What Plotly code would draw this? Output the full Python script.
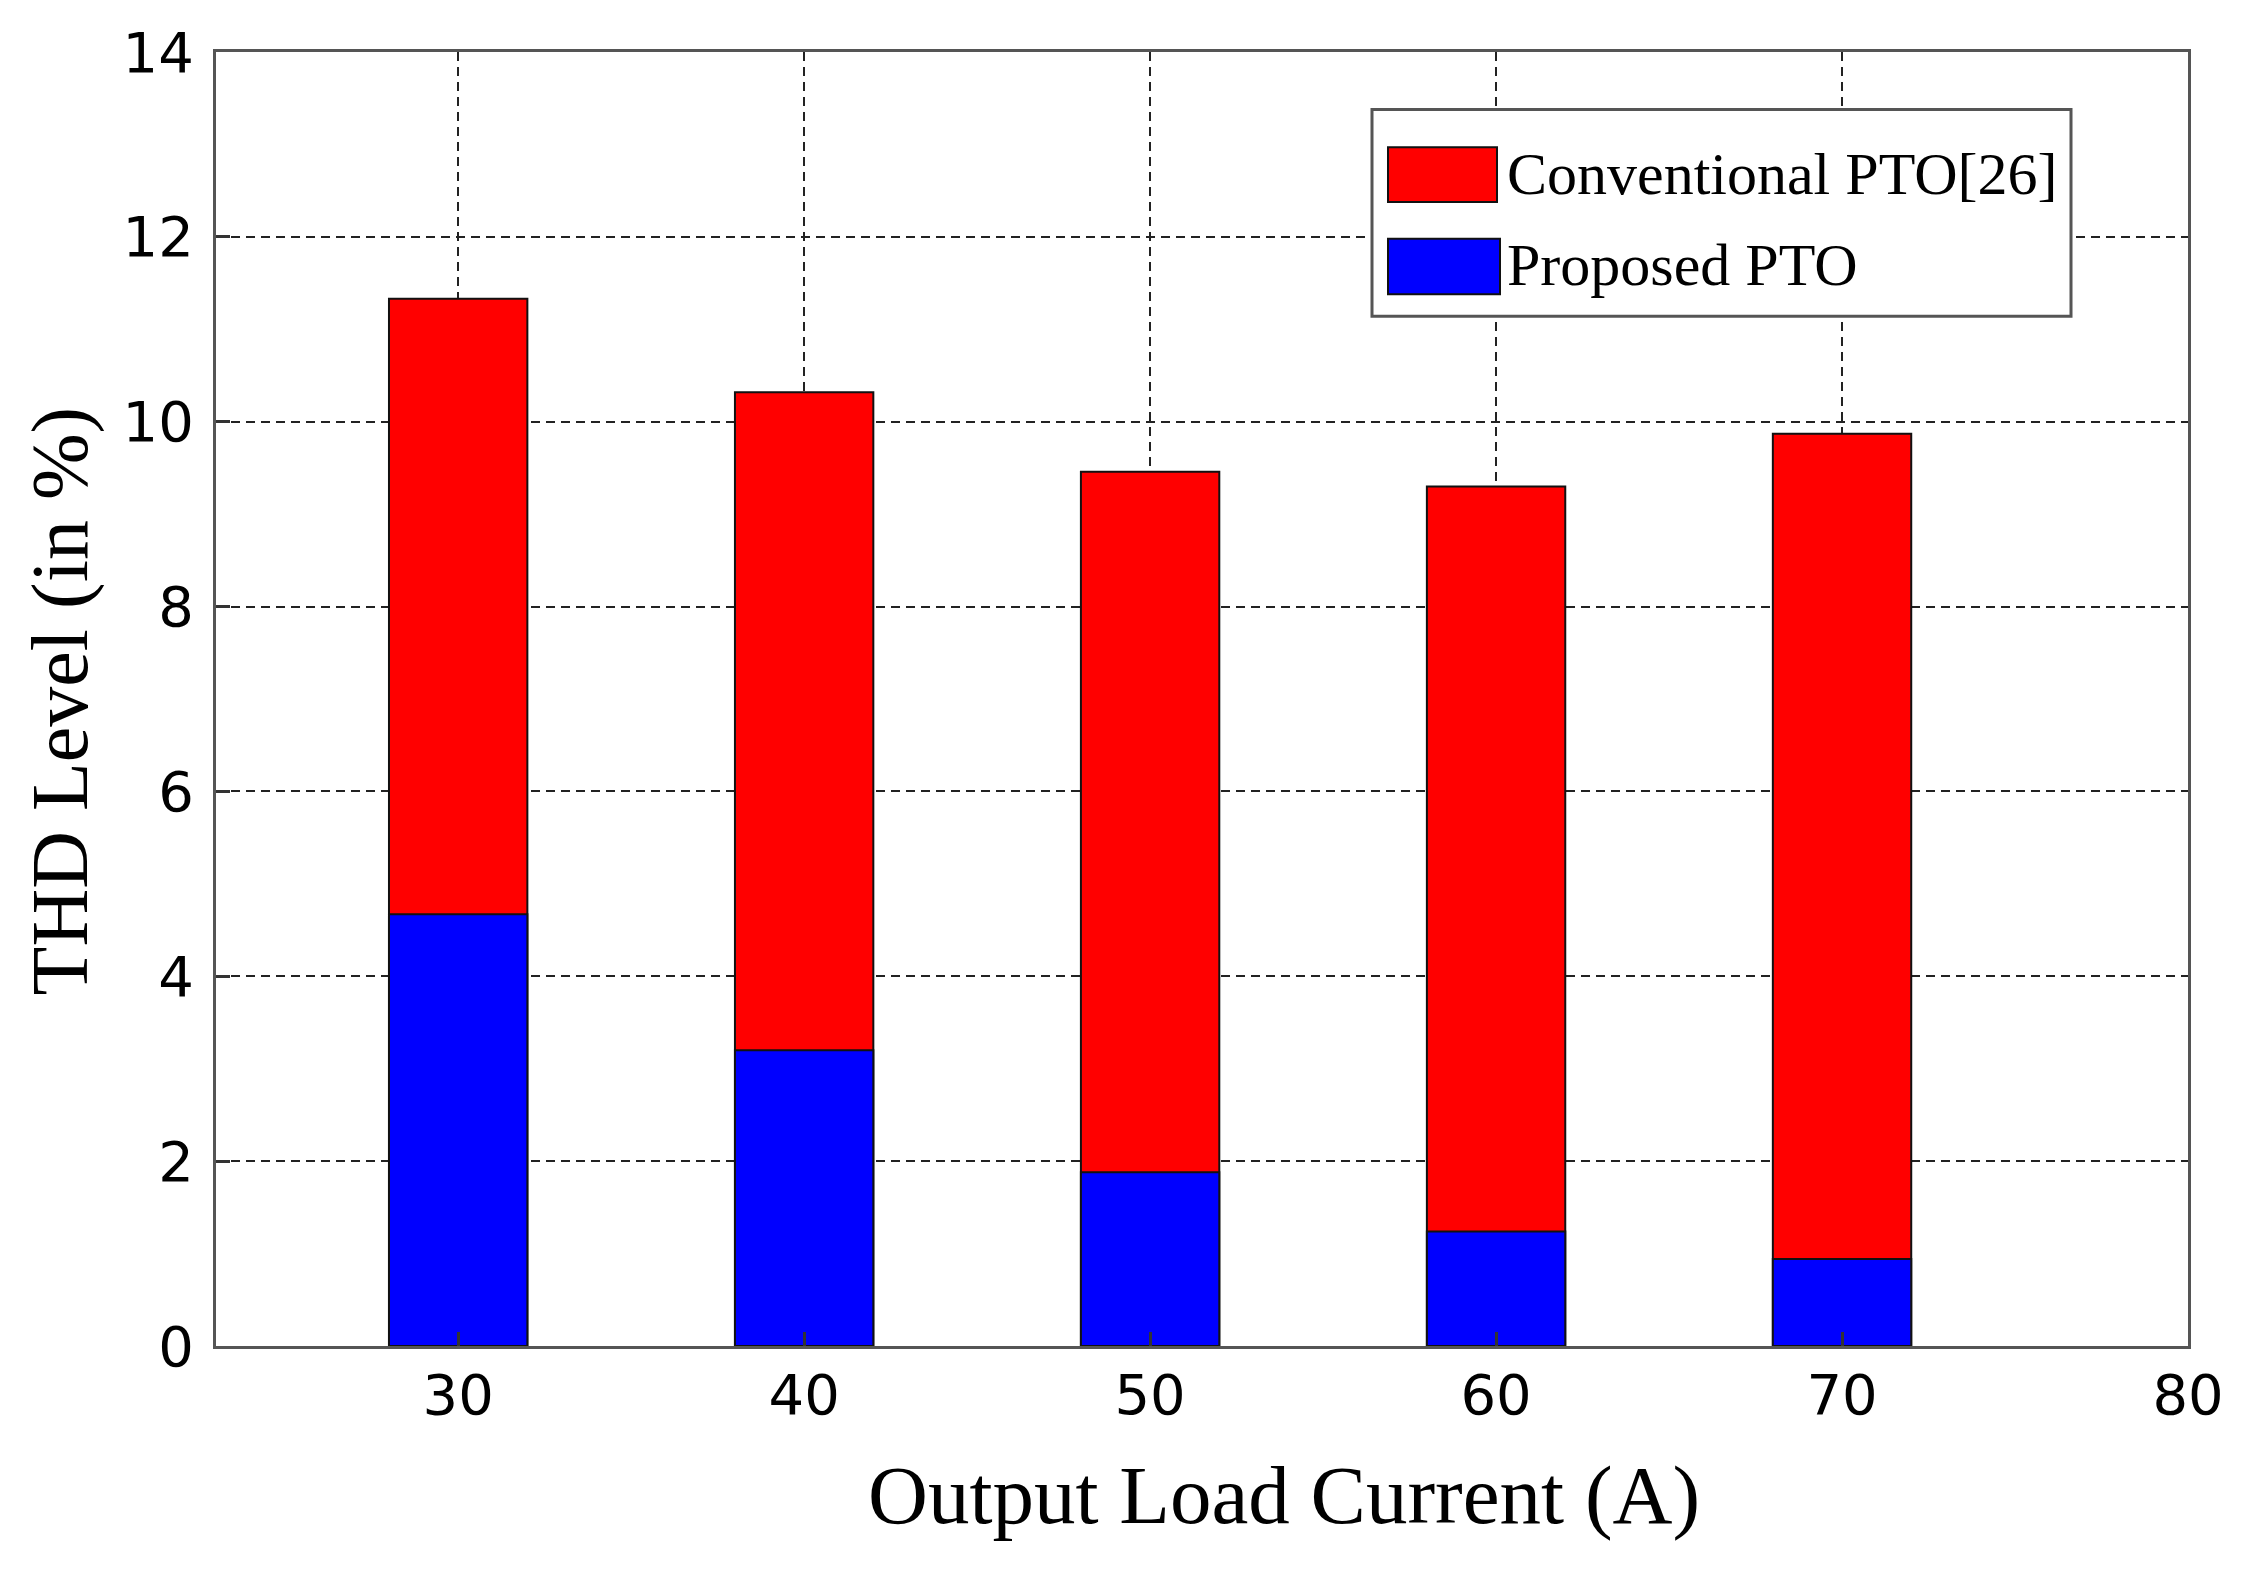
import plotly.graph_objects as go

# ---- data ----
load_current = [30, 40, 50, 60, 70]
conventional_thd = [11.33, 10.32, 9.46, 9.30, 9.87]
proposed_thd = [4.67, 3.20, 1.88, 1.24, 0.94]
series_names = ["Conventional PTO[26]", "Proposed PTO"]
x_ticks = [30, 40, 50, 60, 70, 80]
y_ticks = [0, 2, 4, 6, 8, 10, 12, 14]

# page has an 8px body margin; figure sized to fit the window
OFF = 8
W, H = 2250 - 2 * OFF, 1569 - 2 * OFF
# plot-area edges in page pixels
L, R, T, B = 216, 2188, 43, 1346


def px(x):
    return (x - L) / (R - L)


def py(y):
    return (B - y) / (B - T)


fig = go.Figure()
fig.add_trace(go.Bar(
    x=load_current, y=conventional_thd, name=series_names[0], width=4,
    marker=dict(color="#ff0000", line=dict(color="#111111", width=2)),
))
fig.add_trace(go.Bar(
    x=load_current, y=proposed_thd, name=series_names[1], width=4,
    marker=dict(color="#0000ff", line=dict(color="#111111", width=2)),
))

axis_common = dict(
    showline=True, mirror=True, linecolor="#555555", linewidth=3,
    ticks="inside", ticklen=14, tickwidth=3, tickcolor="#333333",
    showgrid=True, gridcolor="#222222", gridwidth=2, griddash="9px,6px",
    zeroline=False,
    tickfont=dict(family="DejaVu Sans", size=56, color="#000000"),
)

fig.update_layout(
    width=W, height=H,
    margin=dict(l=L - OFF, r=W - (R - OFF), t=T - OFF, b=H - (B - OFF)),
    paper_bgcolor="white", plot_bgcolor="white",
    barmode="overlay", showlegend=False,
    xaxis=dict(range=[23.0, 80], tickvals=x_ticks, ticklabelstandoff=-2, **axis_common),
    yaxis=dict(range=[0, 14], tickvals=y_ticks, ticklabelstandoff=8, **axis_common),
)

# axis titles
fig.add_annotation(
    text="Output Load Current (A)", xref="paper", yref="paper",
    x=px(1284), y=py(1496), showarrow=False, xanchor="center", yanchor="middle",
    font=dict(family="Liberation Serif", size=83, color="#000000"),
)
fig.add_annotation(
    text="THD Level (in %)", xref="paper", yref="paper", textangle=-90,
    x=px(60), y=py(697), showarrow=False, xanchor="center", yanchor="middle",
    font=dict(family="Liberation Serif", size=80, color="#000000"),
)

# custom legend
fig.add_shape(type="rect", xref="paper", yref="paper",
              x0=px(1372), x1=px(2071), y0=py(309), y1=py(101),
              line=dict(color="#555555", width=3), fillcolor="white", layer="above")
legend_rows = [(139, 194, 166, 1497, "#ff0000"), (231, 287, 257, 1500, "#0000ff")]
for (ya, yb, yc, xr, col), name in zip(legend_rows, series_names):
    fig.add_shape(type="rect", xref="paper", yref="paper",
                  x0=px(1388), x1=px(xr), y0=py(yb), y1=py(ya),
                  line=dict(color="#111111", width=2), fillcolor=col, layer="above")
    fig.add_annotation(text=name, xref="paper", yref="paper",
                       x=px(1505), y=py(yc), showarrow=False,
                       xanchor="left", yanchor="middle",
                       font=dict(family="Liberation Serif", size=60, color="#000000"))

fig.write_html("out.html")
